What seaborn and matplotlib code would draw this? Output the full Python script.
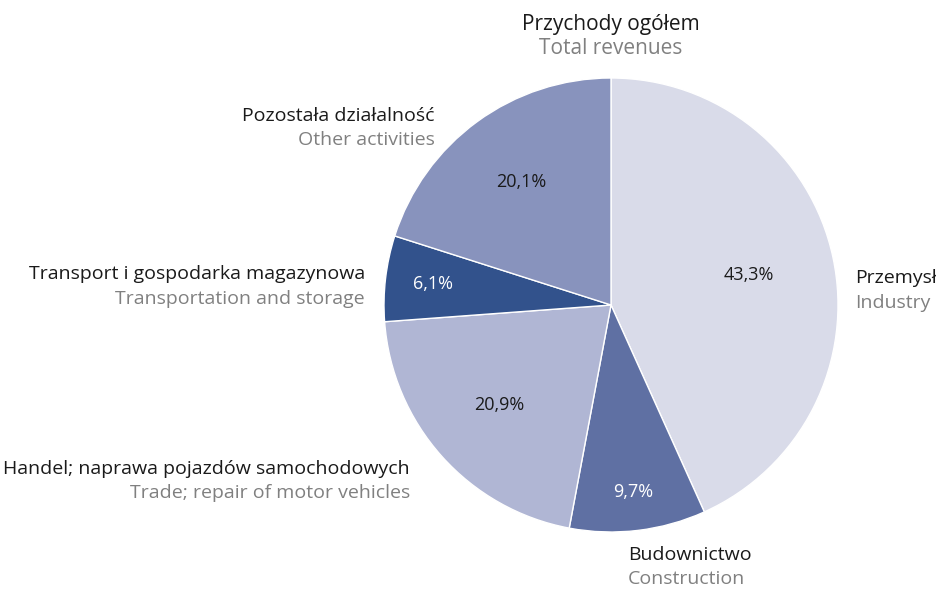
import matplotlib
matplotlib.use("Agg")
import numpy as np
import matplotlib.pyplot as plt
import seaborn as sns

sns.set_style("white")
plt.rcParams['font.family'] = ['Open Sans', 'DejaVu Sans']

# Data
sectors_pl = ['Przemysł', 'Budownictwo', 'Handel; naprawa pojazdów samochodowych',
              'Transport i gospodarka magazynowa', 'Pozostała działalność']
sectors_en = ['Industry', 'Construction', 'Trade; repair of motor vehicles',
              'Transportation and storage', 'Other activities']
shares = [43.3, 9.7, 20.9, 6.1, 20.1]
title_pl = 'Przychody ogółem'
title_en = 'Total revenues'

colors = ['#d9dbe9', '#5f70a3', '#b0b6d4', '#32528c', '#8893bd']
pct_colors = ['#1a1a1a', 'white', '#1a1a1a', 'white', '#1a1a1a']
pct_dist = [0.62, 0.83, 0.66, 0.79, 0.67]

W, H = 937, 589
fig = plt.figure(figsize=(W / 100, H / 100), dpi=100)

# pie centre and radius in pixels
cx, cy, r = 611, 305, 227
ax = fig.add_axes([(cx - r) / W, (H - cy - r) / H, 2 * r / W, 2 * r / H])
wedges, _ = ax.pie(shares, colors=colors, startangle=90, counterclock=False,
                   radius=1, wedgeprops=dict(edgecolor='white', linewidth=1))
ax.set_xlim(-1, 1)
ax.set_ylim(-1, 1)
ax.set_aspect('equal')
ax.axis('off')

for w, v, d, c in zip(wedges, shares, pct_dist, pct_colors):
    ang = np.deg2rad((w.theta1 + w.theta2) / 2)
    ax.text(d * np.cos(ang), d * np.sin(ang), f'{v:.1f}%'.replace('.', ','),
            ha='center', va='center', fontsize=13, color=c)

dark = '#1a1a1a'
grey = '#808080'
fs = 14


def label(x, y, top, bottom, ha, size=fs):
    fig.text(x / W, 1 - y / H, top, ha=ha, va='baseline', fontsize=size, color=dark)
    fig.text(x / W, 1 - (y + 24.5) / H, bottom, ha=ha, va='baseline', fontsize=size, color=grey)


label(611, 30, title_pl, title_en, 'center', 15)
label(855, 283, sectors_pl[0], sectors_en[0], 'left')
label(628, 560, sectors_pl[1], sectors_en[1], 'left')
label(410, 474, sectors_pl[2], sectors_en[2], 'right')
label(365, 279, sectors_pl[3], sectors_en[3], 'right')
label(435, 121, sectors_pl[4], sectors_en[4], 'right')

fig.savefig('out.png', dpi=100)
